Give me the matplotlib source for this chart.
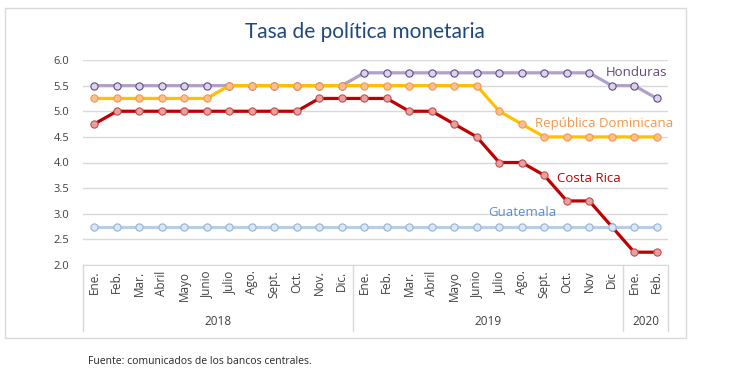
import matplotlib.pyplot as plt
from matplotlib.patches import Rectangle
import matplotlib.transforms as mtransforms

months = ["Ene.", "Feb.", "Mar.", "Abril", "Mayo", "Junio", "Julio", "Ago.", "Sept.", "Oct.", "Nov.", "Dic.",
          "Ene.", "Feb.", "Mar.", "Abril", "Mayo", "Junio", "Julio", "Ago.", "Sept.", "Oct.", "Nov", "Dic",
          "Ene.", "Feb."]
years = ["2018", "2019", "2020"]
year_sizes = [12, 12, 2]

honduras = [5.5] * 12 + [5.75] * 11 + [5.5, 5.5, 5.25]
rep_dom = [5.25] * 6 + [5.5] * 12 + [5.0, 4.75, 4.5, 4.5, 4.5, 4.5, 4.5, 4.5]
costa_rica = [4.75, 5.0, 5.0, 5.0, 5.0, 5.0, 5.0, 5.0, 5.0, 5.0, 5.25, 5.25,
              5.25, 5.25, 5.0, 5.0, 4.75, 4.5, 4.0, 4.0, 3.75, 3.25, 3.25, 2.75,
              2.25, 2.25]
guatemala = [2.75] * 26

plt.rcParams["font.family"] = ["Open Sans", "DejaVu Sans"]

fig = plt.figure(figsize=(7.55, 3.81), dpi=100)
ax = fig.add_axes([83 / 755, 1 - 265 / 381, (668 - 83) / 755, (265 - 60) / 381])

# outer frame
fig.patches.append(Rectangle((5 / 755, 1 - 338 / 381), 681 / 755, 330 / 381,
                             transform=fig.transFigure, fill=False,
                             edgecolor="#D9D9D9", linewidth=1))

x = list(range(len(months)))

series = [
    (honduras, "#B1A0C7", "#DCD3E8", "#5F4B8B"),
    (rep_dom, "#FFC000", "#FAC090", "#F79646"),
    (costa_rica, "#C00000", "#E6A0A0", "#C0504D"),
    (guatemala, "#B9CDE5", "#DCE6F2", "#95B3D7"),
]
for vals, lc, fc, ec in series:
    ax.plot(x, vals, color=lc, linewidth=2.3, marker="o", markersize=5.2,
            markerfacecolor=fc, markeredgecolor=ec, markeredgewidth=0.8)


def ax_xy(px, py):
    # pixel position in the figure -> axes fraction
    return ((px - 83) / 585, (265 - py) / 205)


lab_kw = dict(fontsize=9.5, va="center", ha="left", transform=ax.transAxes)
ax.text(*ax_xy(606, 72), "Honduras", color="#604A7B", **lab_kw)
ax.text(*ax_xy(535, 123), "República Dominicana", color="#F79646", **lab_kw)
ax.text(*ax_xy(557, 179), "Costa Rica", color="#C00000", **lab_kw)
ax.text(*ax_xy(488, 213), "Guatemala", color="#558ED5", **lab_kw)

ax.set_xlim(-0.5, len(months) - 0.5)
ax.set_ylim(2.0, 6.0)
ax.set_yticks([2.0, 2.5, 3.0, 3.5, 4.0, 4.5, 5.0, 5.5, 6.0])
ax.set_yticklabels([f"{v:.1f}" for v in ax.get_yticks()])
ax.yaxis.grid(True, color="#D9D9D9", linewidth=1)
ax.set_axisbelow(True)
ax.tick_params(axis="y", length=0, labelsize=8, labelcolor="#404040", pad=10)

ax.set_xticks(x)
ax.set_xticklabels(months, rotation=90, fontsize=8.5, color="#404040")
ax.tick_params(axis="x", length=0, pad=4)

for side in ["top", "right", "left"]:
    ax.spines[side].set_visible(False)
ax.spines["bottom"].set_color("#D9D9D9")

# year groups below the axis
trans = mtransforms.blended_transform_factory(ax.transData, ax.transAxes)
edges = [-0.5]
for n in year_sizes:
    edges.append(edges[-1] + n)
for e in edges:
    ax.plot([e, e], [0, -0.32], color="#D9D9D9", linewidth=1,
            transform=trans, clip_on=False)
for i, yr in enumerate(years):
    mid = (edges[i] + edges[i + 1]) / 2
    ax.text(mid, -0.278, yr, transform=trans, ha="center", va="center",
            fontsize=8.5, color="#404040")

fig.text(365 / 755, 1 - 32 / 381, "Tasa de política monetaria", ha="center", va="center",
         fontsize=15, color="#1F497D", family=["Lato", "DejaVu Sans"])
fig.text(88 / 755, 1 - 362 / 381, "Fuente: comunicados de los bancos centrales.",
         ha="left", va="center", fontsize=7.5, color="#262626")

fig.savefig("out.png", dpi=100)
